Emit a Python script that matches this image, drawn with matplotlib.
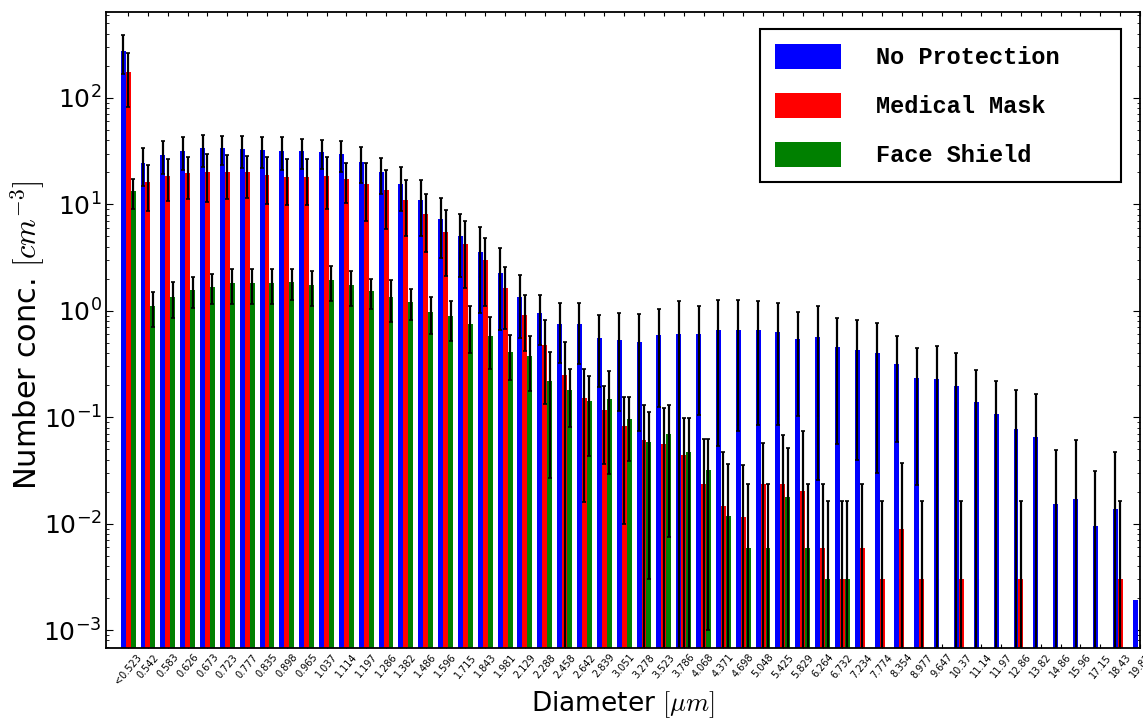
import numpy as np
import matplotlib
matplotlib.use("Agg")
import matplotlib.pyplot as plt

plt.rcParams['mathtext.fontset'] = 'cm'

categories = ["<0.523", "0.542", "0.583", "0.626", "0.673", "0.723", "0.777", "0.835", "0.898", "0.965",
              "1.037", "1.114", "1.197", "1.286", "1.382", "1.486", "1.596", "1.715", "1.843", "1.981",
              "2.129", "2.288", "2.458", "2.642", "2.839", "3.051", "3.278", "3.523", "3.786", "4.068",
              "4.371", "4.698", "5.048", "5.425", "5.829", "6.264", "6.732", "7.234", "7.774", "8.354",
              "8.977", "9.647", "10.37", "11.14", "11.97", "12.86", "13.82", "14.86", "15.96", "17.15",
              "18.43", "19.81"]

no_protection = [278, 24.4, 29.0, 31.8, 33.7, 33.7, 33.0, 32.3, 31.8, 31.4,
                 30.9, 29.8, 25.2, 19.9, 15.6, 11.0, 7.3, 5.06, 3.56, 2.26,
                 1.36, 0.95, 0.755, 0.755, 0.554, 0.535, 0.505, 0.586, 0.604, 0.604,
                 0.654, 0.664, 0.654, 0.635, 0.542, 0.566, 0.456, 0.43, 0.40, 0.318,
                 0.233, 0.228, 0.198, 0.139, 0.107, 0.078, 0.065, 0.0154, 0.0172, 0.0096,
                 0.0136, 0.0019]
no_protection_err = [112, 9.4, 9.9, 10.9, 11.3, 10.5, 11.0, 10.4, 10.9, 9.8,
                     9.6, 9.9, 9.5, 7.4, 6.9, 6.0, 4.2, 3.0, 2.6, 1.6,
                     0.8, 0.47, 0.43, 0.44, 0.36, 0.42, 0.43, 0.46, 0.62, 0.5,
                     0.6, 0.59, 0.57, 0.55, 0.44, 0.54, 0.4, 0.39, 0.37, 0.26,
                     0.21, 0.24, 0.2, 0.14, 0.11, 0.103, 0.1, 0.034, 0.044, 0.022,
                     0.034, 0.0]

medical_mask = [174, 16.1, 18.6, 19.6, 20.1, 20.1, 20.0, 18.9, 18.2, 18.2,
                18.5, 17.3, 15.6, 13.5, 11.0, 8.1, 5.5, 4.26, 2.97, 1.62,
                0.92, 0.472, 0.25, 0.151, 0.117, 0.082, 0.0615, 0.056, 0.0445, 0.0236,
                0.0148, 0.0116, 0.0236, 0.0236, 0.0204, 0.0059, 0.003, 0.0059, 0.003, 0.0089,
                0.003, 0, 0.003, 0, 0, 0.003, 0, 0, 0, 0,
                0.003, 0]
medical_mask_err = [92, 7.4, 7.9, 8.5, 9.5, 8.9, 8.6, 8.8, 8.3, 8.3,
                    9.5, 7.1, 8.6, 7.6, 6.0, 4.5, 3.4, 2.64, 1.85, 0.95,
                    0.5, 0.34, 0.255, 0.135, 0.081, 0.072, 0.07, 0.065, 0.054, 0.039,
                    0.032, 0.024, 0.034, 0.044, 0.054, 0.0176, 0.0134, 0.0176, 0.0134, 0.028,
                    0.0134, 0, 0.0134, 0, 0, 0.0134, 0, 0, 0, 0,
                    0.0134, 0]

face_shield = [13.2, 1.11, 1.35, 1.57, 1.69, 1.82, 1.82, 1.82, 1.85, 1.75,
               1.95, 1.75, 1.52, 1.36, 1.21, 0.98, 0.885, 0.755, 0.582, 0.406,
               0.377, 0.217, 0.181, 0.143, 0.149, 0.097, 0.058, 0.0695, 0.0467, 0.032,
               0.0117, 0.0059, 0.0059, 0.0177, 0.0059, 0.003, 0.003, 0, 0, 0,
               0, 0, 0, 0, 0, 0, 0, 0, 0, 0,
               0, 0]
face_shield_err = [4.2, 0.4, 0.5, 0.5, 0.53, 0.65, 0.65, 0.65, 0.6, 0.63,
                   0.71, 0.63, 0.48, 0.57, 0.39, 0.38, 0.36, 0.35, 0.3, 0.18,
                   0.2, 0.19, 0.1, 0.1, 0.12, 0.058, 0.055, 0.062, 0.051, 0.031,
                   0.025, 0.0176, 0.0176, 0.034, 0.0176, 0.0134, 0.0134, 0, 0, 0,
                   0, 0, 0, 0, 0, 0, 0, 0, 0, 0,
                   0, 0]

series = [("No Protection", no_protection, no_protection_err, "#0000ff"),
          ("Medical Mask", medical_mask, medical_mask_err, "#ff0000"),
          ("Face Shield", face_shield, face_shield_err, "#008000")]

fig = plt.figure(figsize=(11.43, 7.27), dpi=100)
ax = fig.add_axes([106/1143, 1 - 648/727, (1140-106)/1143, (648-12)/727])

x = np.arange(len(categories))
w = 0.25
for j, (name, vals, errs, col) in enumerate(series):
    v = np.array(vals, dtype=float)
    e = np.array(errs, dtype=float)
    vm = np.where(v > 0, v, np.nan)
    ax.bar(x + j*w, vm, width=w, color=col, linewidth=0, label=name, zorder=2)
    em = np.where(e > 0, e, np.nan)
    ax.errorbar(x + j*w, vm, yerr=em, fmt='none', ecolor='black', elinewidth=1.6,
                capsize=1.6, capthick=1.2, zorder=3)

ax.set_yscale('log')
ax.set_ylim(6.8e-4, 640)
ax.set_xlim(-0.865, 51.135)
ax.set_xticks(x + w)
ax.set_xticklabels(categories, rotation=50, fontsize=7)
ax.tick_params(axis='both', which='both', direction='in', top=True, right=True)
ax.tick_params(axis='y', which='major', labelsize=18, length=5, pad=3)
ax.tick_params(axis='y', which='minor', length=2.5)
ax.tick_params(axis='x', which='major', length=3, pad=3)
for s in ax.spines.values():
    s.set_linewidth(1.3)

ax.set_ylabel(r'Number conc. $[cm^{-3}]$', fontsize=22)
ax.yaxis.set_label_coords(-0.057, 0.492)
ax.set_xlabel(r'Diameter $[\mu m]$', fontsize=19, labelpad=2)

leg = ax.legend(loc='upper left', bbox_to_anchor=(0.6325, 0.9733, 0.3491, 0), mode='expand',
                borderaxespad=0, fancybox=False, framealpha=1, edgecolor='black',
                prop={'family': 'Liberation Mono', 'weight': 'bold', 'size': 17},
                handlelength=2.8, handleheight=1.25, labelspacing=1.0, handletextpad=1.5,
                borderpad=0.62)
leg.get_frame().set_linewidth(1.5)

fig.savefig('out.png', dpi=100)
